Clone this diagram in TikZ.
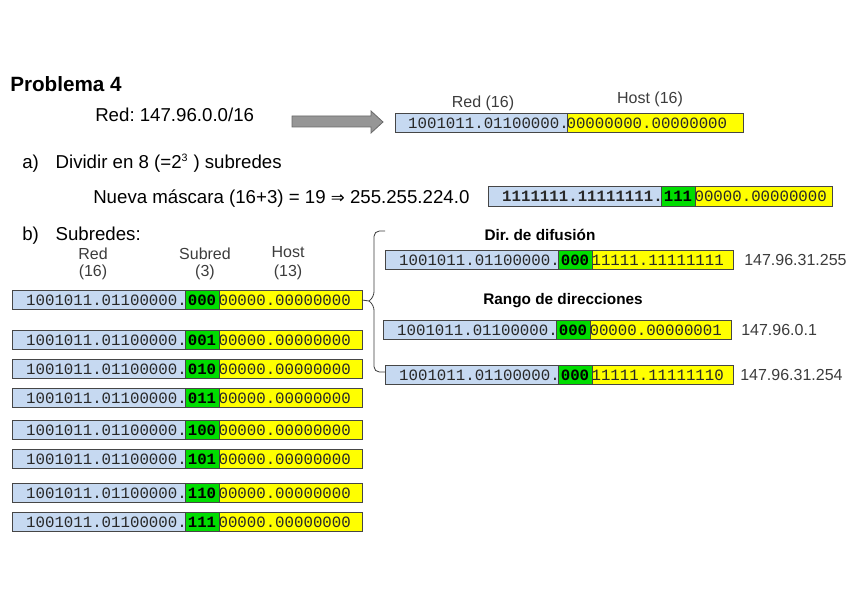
\documentclass[tikz,border=0pt]{standalone}
\usepackage{fontspec}
\setmainfont{Liberation Sans}
\newfontfamily\bitfont{Liberation Mono}
\newfontfamily\symfont{DejaVu Sans}
\frenchspacing
\definecolor{netblue}{RGB}{198,217,241}
\definecolor{netgreen}{RGB}{0,221,0}
\definecolor{netyellow}{RGB}{255,255,0}
\definecolor{cellborder}{RGB}{70,70,70}
\definecolor{bittext}{RGB}{40,40,40}
\definecolor{labgray}{RGB}{60,60,60}
\definecolor{arrowfill}{RGB}{150,150,150}
\definecolor{arrowdraw}{RGB}{105,105,105}
\tikzset{
  cell/.style={draw=cellborder, line width=0.75pt, minimum height=14.6pt, inner sep=0pt, outer sep=0pt},
  bits/.style={font={\bitfont\fontsize{11.8pt}{13pt}\selectfont}, text=bittext, inner sep=0pt},
  bigtext/.style={font={\fontsize{14pt}{16pt}\selectfont}, inner sep=0pt, anchor=base west},
  collab/.style={font={\fontsize{12pt}{14pt}\selectfont}, text=labgray, inner sep=0pt},
  vallab/.style={font={\fontsize{12pt}{14pt}\selectfont}, text=labgray, inner sep=0pt, anchor=west},
  boldlab/.style={font={\bfseries\fontsize{11.5pt}{13pt}\selectfont}, inner sep=0pt, anchor=base},
  bigarrow/.style={fill=arrowfill, draw=arrowdraw, line width=0.6pt},
  bracepath/.style={draw=labgray, line width=0.6pt}
}
% #1 name, #2 x, #3 y, #4 blue text, #5 green text, #6 yellow text, #7 yellow width, #8 blue font
\newcommand\iprow[8]{%
  \node[cell,fill=netblue,minimum width=129.75pt,anchor=west] (#1b) at (#2,#3) {};
  \node[cell,fill=netgreen,minimum width=25.5pt,anchor=west] (#1g) at (#1b.east) {};
  \node[cell,fill=netyellow,minimum width=#7,anchor=west] (#1y) at (#1g.east) {};
  \node[bits,anchor=east] (#1bt) at ([xshift=1.5pt]#1b.east) {#8#4};
  \node[bits,text=black] (#1gt) at (#1g.center) {\bfseries #5};
  \node[bits,anchor=west] (#1yt) at ([xshift=-0.5pt]#1y.west) {#6};
}
\begin{document}
\begin{tikzpicture}[x=0.75pt,y=-0.75pt]
\useasboundingbox (0,0) rectangle (848,599);

% title and statement
\node[bigtext,font={\bfseries\fontsize{15.5pt}{17pt}\selectfont}] (title) at (10,92) {Problema 4};
\node[bigtext] (red) at (95,122) {Red: 147.96.0.0/16};
\draw[bigarrow] (292,116) -- (371,116) -- (371,111) -- (383,122) -- (371,133) -- (371,127) -- (292,127) -- cycle;

% top box
\node[cell,fill=netblue,minimum width=129pt,anchor=west] (Tb) at (395,123) {};
\node[cell,fill=netyellow,minimum width=132pt,anchor=west] (Ty) at (Tb.east) {};
\node[bits,anchor=east] (Tbt) at ([xshift=1.5pt]Tb.east) {1001011.01100000.};
\node[bits,anchor=west] (Tyt) at ([xshift=-0.5pt]Ty.west) {00000000.00000000};
\node[collab] (Tred) at (483,103) {Red (16)};
\node[collab] (Thost) at (650,99) {Host (16)};

% a)
\node[bigtext] (pa) at (22,168) {a)\hspace{0.9em}Dividir en 8 (=2\textsuperscript{\fontsize{8pt}{9pt}\selectfont 3} ) subredes};
\node[bigtext] (mask) at (93,203) {Nueva máscara (16+3) = 19 {\symfont\fontsize{12.5pt}{14pt}\selectfont ⇒} 255.255.224.0};
\iprow{M}{488}{196.5}{1111111.11111111.}{111}{00000.00000000}{102.75pt}{\bfseries}

% b)
\node[bigtext] (pb) at (22,240) {b)\hspace{0.9em}Subredes:};
\node[collab] (cr1) at (93,254) {Red};
\node[collab] (cr2) at (93,272) {(16)};
\node[collab] (cs1) at (205,254) {Subred};
\node[collab] (cs2) at (205,272) {(3)};
\node[collab] (ch1) at (288,252) {Host};
\node[collab] (ch2) at (288,272) {(13)};

\iprow{La}{12}{300}{1001011.01100000.}{000}{00000.00000000}{107.25pt}{}
\iprow{Lb}{12}{340}{1001011.01100000.}{001}{00000.00000000}{107.25pt}{}
\iprow{Lc}{12}{369}{1001011.01100000.}{010}{00000.00000000}{107.25pt}{}
\iprow{Ld}{12}{398}{1001011.01100000.}{011}{00000.00000000}{107.25pt}{}
\iprow{Le}{12}{430}{1001011.01100000.}{100}{00000.00000000}{107.25pt}{}
\iprow{Lf}{12}{459}{1001011.01100000.}{101}{00000.00000000}{107.25pt}{}
\iprow{Lg}{12}{493}{1001011.01100000.}{110}{00000.00000000}{107.25pt}{}
\iprow{Lh}{12}{522}{1001011.01100000.}{111}{00000.00000000}{107.25pt}{}

% right side
\node[boldlab] (difu) at (540,240) {Dir. de difusión};
\iprow{Ra}{385}{260}{1001011.01100000.}{000}{11111.11111111}{105.75pt}{}
\node[vallab] (va) at (744,260) {147.96.31.255};
\node[boldlab] (rango) at (563,304) {Rango de direcciones};
\iprow{Rb}{383}{330}{1001011.01100000.}{000}{00000.00000001}{105.75pt}{}
\node[vallab] (vb) at (741,330) {147.96.0.1};
\iprow{Rc}{385}{375}{1001011.01100000.}{000}{11111.11111110}{105.75pt}{}
\node[vallab] (vc) at (740,375) {147.96.31.254};

% brace
\coordinate (btop) at (385,231);
\coordinate (btip) at (369,301);
\draw[bracepath] (Lay.east) -- (btip);
\draw[bracepath,rounded corners=4pt] (btop) -- (374,231) -- (374,297) -- (btip);
\draw[bracepath,rounded corners=4pt] (btip) -- (374,305) -- (374,372) -- (Rcb.west |- 0,372);
\end{tikzpicture}
\end{document}
